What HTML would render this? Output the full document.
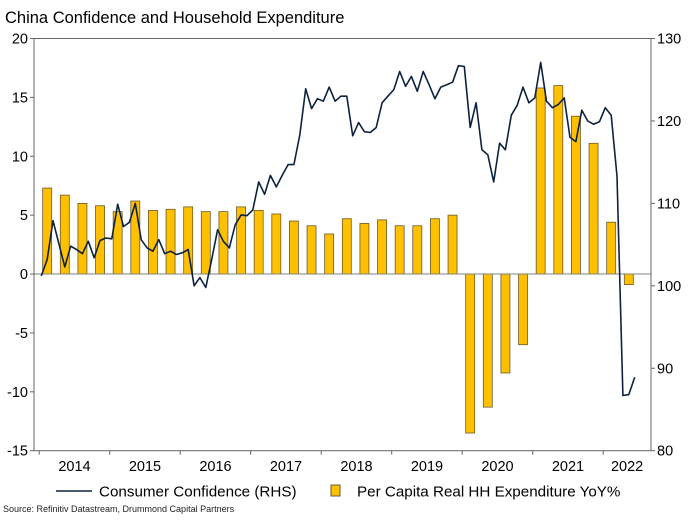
<!DOCTYPE html>
<html><head><meta charset="utf-8"><style>
body{margin:0;background:#fff;width:689px;height:517px;overflow:hidden;font-family:"Liberation Sans",sans-serif}
</style></head><body>
<svg id="chart" width="689" height="517" xmlns="http://www.w3.org/2000/svg" font-family="Liberation Sans, sans-serif">
<text x="5" y="23" font-size="16.5" fill="#000">China Confidence and Household Expenditure</text>
<g id="plot"></g>
<g>
<line x1="56" y1="491" x2="92" y2="491" stroke="#0d2240" stroke-width="1.6"/>
<text x="99" y="496.5" font-size="15.2">Consumer Confidence (RHS)</text>
<rect x="331" y="485" width="9" height="11" fill="#FFC000" stroke="#6b5a2a"/>
<text x="357" y="496.5" font-size="15.2">Per Capita Real HH Expenditure YoY%</text>
</g>
<text x="3" y="512" font-size="9" fill="#222">Source: Refinitiv Datastream, Drummond Capital Partners</text>
</svg>
<script>
const years = ["2014","2015","2016","2017","2018","2019","2020","2021","2022"];
const leftTicks = [20,15,10,5,0,-5,-10,-15];
const rightTicks = [130,120,110,100,90,80];
const expenditure = [7.3,6.7,6.0,5.8,5.3,6.2,5.4,5.5,5.7,5.3,5.3,5.7,5.4,5.1,4.5,4.1,3.4,4.7,4.3,4.6,4.1,4.1,4.7,5.0,-13.5,-11.3,-8.4,-6.0,15.8,16.0,13.4,11.1,4.4,-0.9];
const confidence = [101.2,103.2,107.9,105.1,102.3,104.8,104.4,103.9,105.4,103.4,105.5,105.8,105.7,109.9,107.2,107.7,110.0,105.6,104.6,104.2,105.6,103.9,104.2,103.8,104.0,104.4,100.0,101.0,99.8,103.2,106.8,105.4,104.6,107.4,
108.6,108.5,109.2,112.6,111.1,113.4,112.0,113.4,114.7,114.7,118.3,123.9,121.5,122.7,122.4,124.1,122.4,123.0,123.0,118.2,119.8,118.7,118.6,119.2,122.2,123.0,123.8,126.0,124.2,125.4,123.6,126.0,124.4,
122.7,124.1,124.4,124.7,126.7,126.6,119.2,122.2,116.5,115.9,112.6,117.3,116.5,120.7,121.9,124.1,122.2,122.8,127.1,122.4,121.6,122.0,122.8,118.0,117.5,121.3,120.0,119.6,119.9,121.6,120.7,113.3,86.7,86.8,88.9];

const NS="http://www.w3.org/2000/svg";
const g=document.getElementById('plot');
const L=34,R=651,T=38.5,B=450.7;
const yL=v=>T+(20-v)/35*(B-T);
const yR=v=>T+(130-v)/50*(B-T);
const monthW=70.5/12;
const xM=i=>41.3+monthW*i;
const xYearStart=k=>39.2+70.5*k;
function el(tag,attrs){const e=document.createElementNS(NS,tag);for(const k in attrs)e.setAttribute(k,attrs[k]);g.appendChild(e);return e;}

expenditure.forEach((v,j)=>{
  const cx=xM(3*j+1);
  const y0=yL(0),y1=yL(v);
  const r=el('rect',{x:cx-4.5,y:Math.min(y0,y1),width:9,height:Math.abs(y1-y0),fill:'#FFC000',stroke:'#6b5a2a','stroke-width':0.8});
  
  
});
const z=el('line',{x1:L,x2:R,y1:yL(0),y2:yL(0),stroke:'#808080','stroke-width':1});


const pts=confidence.map((v,i)=>xM(i).toFixed(1)+','+yR(v).toFixed(1)).join(' ');
const pl=el('polyline',{points:pts,fill:'none',stroke:'#0d2240','stroke-width':1.6,'stroke-linejoin':'round'});


const fr=el('rect',{x:L,y:T,width:R-L,height:B-T,fill:'none',stroke:'#666','stroke-width':1});


leftTicks.forEach(v=>{
  const t=el('text',{x:28,y:yL(v)+5,'font-size':14.5,'text-anchor':'end'});t.textContent=v;
  
  
  const tk=el('line',{x1:L-4,x2:L,y1:yL(v),y2:yL(v),stroke:'#666'});
  
  
});
rightTicks.forEach(v=>{
  const t=el('text',{x:657,y:yR(v)+5,'font-size':14.5}); t.textContent=v;
  
  
  const tk=el('line',{x1:R,x2:R+4,y1:yR(v),y2:yR(v),stroke:'#666'});
  
  
});
years.forEach((yr,k)=>{
  const xs=xYearStart(k), xe=Math.min(xYearStart(k+1),R);
  const t=el('text',{x:(xs+xe)/2,y:471,'font-size':14.5,'text-anchor':'middle'}); t.textContent=yr;
  
  
  const tk=el('line',{x1:xs,x2:xs,y1:B,y2:B+4,stroke:'#666'});
  
  
});
</script>
</body></html>
